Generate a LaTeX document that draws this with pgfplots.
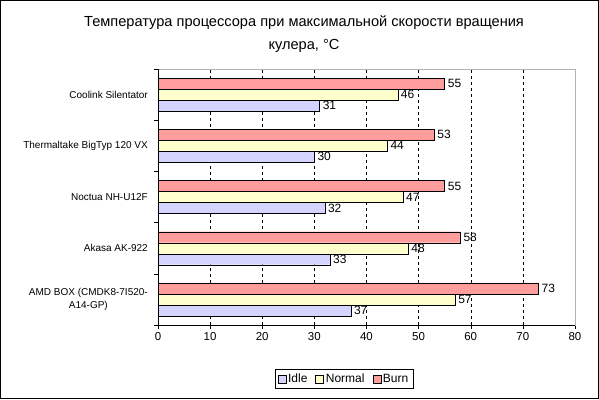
\documentclass[border=0pt]{standalone}
\usepackage{pgfplots}
\pgfplotsset{compat=1.18}
\usepackage{fontspec}
\setmainfont{Liberation Sans}
\definecolor{burnF}{HTML}{FF9C9C}
\definecolor{normF}{HTML}{FFFFCC}
\definecolor{idleF}{HTML}{D4D4FF}
\begin{document}
\begin{tikzpicture}
\useasboundingbox (0pt,0pt) rectangle (599pt,399pt);
\draw[black, line width=1pt] (0.5pt,0.5pt) rectangle (598.5pt,398.5pt);
\node[align=center, font=\fontsize{14.6}{23}\selectfont] at (304pt,365pt) {Температура процессора при максимальной скорости вращения\\кулера, °C};
\begin{axis}[
  at={(158pt,74pt)}, anchor=south west,
  width=417pt, height=256pt, scale only axis,
  xbar, bar width=11pt,
  xmin=0, xmax=80, ymin=-0.5, ymax=4.5,
  xtick={0,10,...,80},
  ytick={-0.5,0.5,1.5,2.5,3.5,4.5},
  yticklabels={{AMD BOX (CMDK8-7I520-\\A14-GP)},{Akasa AK-922},{Noctua NH-U12F},{Thermaltake BigTyp 120 VX},{Coolink Silentator},{}},
  yticklabel style={align=center, yshift=25.6pt, xshift=-4pt, font=\fontsize{10}{12.5}\selectfont, inner sep=2pt},
  xticklabel style={font=\fontsize{11.5}{13}\selectfont},
  /pgf/number format/assume math mode=true,
  tick align=outside, major tick length=4pt,
  xtick pos=bottom, ytick pos=left,
  tick style={black, thin},
  xmajorgrids, grid style={black, dash pattern=on 3pt off 3pt, thin},
  axis line style={draw=gray!60},
  nodes near coords,
  every node near coord/.append style={anchor=west, xshift=1.5pt, inner sep=1.5pt, font=\fontsize{12}{13}\selectfont, black},
  legend style={at={(rel axis cs:0.446,-0.211)}, anchor=center, legend columns=3, draw=black, thin,
    font=\fontsize{12}{14}\selectfont, inner sep=2.5pt,
    /tikz/every even column/.append style={column sep=6pt}},
  legend image code/.code={\draw[#1, draw=black, thin] (0pt,-4pt) rectangle (8pt,4pt);},
]
\addplot[draw=black, thin, fill=idleF, bar shift=-11pt]
  coordinates {(37,0) (33,1) (32,2) (30,3) (31,4)};
\addplot[draw=black, thin, fill=normF, bar shift=0pt]
  coordinates {(57,0) (48,1) (47,2) (44,3) (46,4)};
\addplot[draw=black, thin, fill=burnF, bar shift=11pt]
  coordinates {(73,0) (58,1) (55,2) (53,3) (55,4)};
\legend{Idle, Normal, Burn}
\draw[black, thin] (rel axis cs:0,1) -- (rel axis cs:0,0) -- (rel axis cs:1,0);
\end{axis}
\end{tikzpicture}
\end{document}
